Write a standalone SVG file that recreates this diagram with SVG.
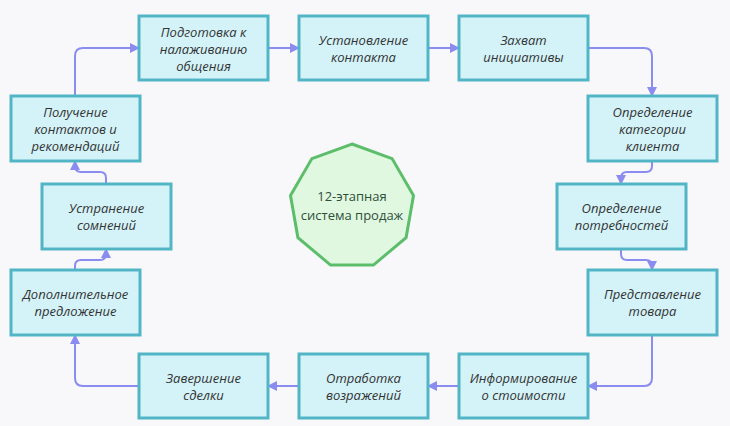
<svg xmlns="http://www.w3.org/2000/svg" width="730" height="426" viewBox="0 0 730 426">
<defs>
<marker id="ah" viewBox="0 0 10 10" refX="9" refY="5" markerWidth="10" markerHeight="10" markerUnits="userSpaceOnUse" orient="auto"><path d="M0,0 L10,5 L0,10 z" fill="#8a8cf0"/></marker>
<style>
.b rect{fill:#d3f3f9;stroke:#52b5c6;stroke-width:3}
.b text{font-family:"Open Sans","Noto Sans",sans-serif;font-style:italic;font-size:13px;fill:#333;text-anchor:middle}
.c path{fill:none;stroke:#8a8cf0;stroke-width:2;marker-end:url(#ah)}
</style>
</defs>
<rect width="730" height="426" fill="#f8f8fb"/>
<g class="c">
<path d="M75,96 V56 Q75,48 83,48 H139"/>
<path d="M268,48 H299"/>
<path d="M428,48 H459"/>
<path d="M588,48 H644 Q652,48 652,56 V96"/>
<path d="M652,161 V166 Q652,172 646,172 H627 Q621,172 621,178 V184"/>
<path d="M621,249 V254 Q621,260 627,260 H646 Q652,260 652,266 V270"/>
<path d="M652,335 V378 Q652,386 644,386 H588"/>
<path d="M459,386 H428"/>
<path d="M299,386 H268"/>
<path d="M139,386 H83 Q75,386 75,378 V335"/>
<path d="M75,270 V266 Q75,260 81,260 H100 Q106,260 106,254 V249"/>
<path d="M106,184 V178 Q106,172 100,172 H81 Q75,172 75,166 V161"/>
</g>
<g id="center">
<polygon points="352,144 392.1,158.6 413.5,195.6 406.1,237.6 373.4,265.1 330.6,265.1 297.9,237.6 290.5,195.6 311.9,158.6" fill="#e0f8e0" stroke="#5cbd6a" stroke-width="3"/>
<text x="352" y="201" font-family="'Open Sans','Noto Sans',sans-serif" font-size="13" fill="#2f4f3a" text-anchor="middle">12-этапная</text>
<text x="352" y="220" font-family="'Open Sans','Noto Sans',sans-serif" font-size="13" fill="#2f4f3a" text-anchor="middle">система продаж</text>
</g>
<g id="n1" class="b"><rect x="139" y="16" width="129" height="64"/><text x="203.5" y="37">Подготовка к</text><text x="203.5" y="54">налаживанию</text><text x="203.5" y="71">общения</text></g>
<g id="n2" class="b"><rect x="299" y="16" width="129" height="64"/><text x="363.5" y="45">Установление</text><text x="363.5" y="62">контакта</text></g>
<g id="n3" class="b"><rect x="459" y="16" width="129" height="64"/><text x="523.5" y="45">Захват</text><text x="523.5" y="62">инициативы</text></g>
<g id="n4" class="b"><rect x="588" y="96" width="129" height="65"/><text x="652.5" y="117">Определение</text><text x="652.5" y="134">категории</text><text x="652.5" y="151">клиента</text></g>
<g id="n5" class="b"><rect x="557" y="184" width="129" height="65"/><text x="621.5" y="213">Определение</text><text x="621.5" y="230">потребностей</text></g>
<g id="n6" class="b"><rect x="588" y="270" width="129" height="65"/><text x="652.5" y="299">Представление</text><text x="652.5" y="316">товара</text></g>
<g id="n7" class="b"><rect x="459" y="354" width="129" height="64"/><text x="523.5" y="383">Информирование</text><text x="523.5" y="400">о стоимости</text></g>
<g id="n8" class="b"><rect x="299" y="354" width="129" height="64"/><text x="363.5" y="383">Отработка</text><text x="363.5" y="400">возражений</text></g>
<g id="n9" class="b"><rect x="139" y="354" width="129" height="64"/><text x="203.5" y="383">Завершение</text><text x="203.5" y="400">сделки</text></g>
<g id="n10" class="b"><rect x="11" y="270" width="129" height="65"/><text x="75.5" y="299">Дополнительное</text><text x="75.5" y="316">предложение</text></g>
<g id="n11" class="b"><rect x="42" y="184" width="129" height="65"/><text x="106.5" y="213">Устранение</text><text x="106.5" y="230">сомнений</text></g>
<g id="n12" class="b"><rect x="11" y="96" width="129" height="65"/><text x="75.5" y="117">Получение</text><text x="75.5" y="134">контактов и</text><text x="75.5" y="151">рекомендаций</text></g>
</svg>
